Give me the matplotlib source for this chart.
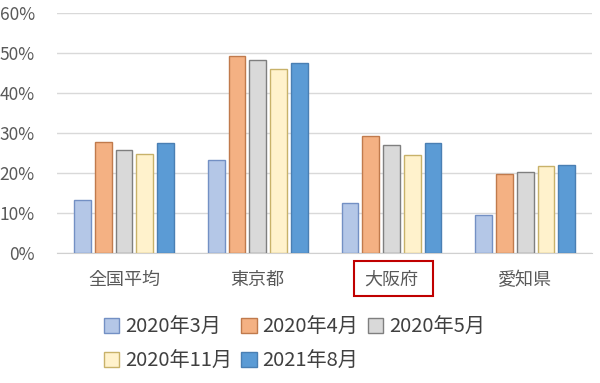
import numpy as np
import matplotlib.pyplot as plt
from matplotlib.patches import Rectangle
from matplotlib.ticker import PercentFormatter

plt.rcParams['font.family'] = ['Noto Sans CJK JP', 'DejaVu Sans']

regions = ['全国平均', '東京都', '大阪府', '愛知県']
periods = ['2020年3月', '2020年4月', '2020年5月', '2020年11月', '2021年8月']
mar_2020 = [13.1, 23.1, 12.5, 9.4]
apr_2020 = [27.8, 49.2, 29.2, 19.7]
may_2020 = [25.6, 48.2, 26.9, 20.1]
nov_2020 = [24.7, 45.8, 24.4, 21.7]
aug_2021 = [27.4, 47.3, 27.5, 21.9]
series = [mar_2020, apr_2020, may_2020, nov_2020, aug_2021]

faces = ['#b4c7e7', '#f4b183', '#d9d9d9', '#fff2cc', '#5b9bd5']
edges = ['#7390c4', '#c07a4c', '#7f7f7f', '#c8b26a', '#4a7fb3']

fig = plt.figure(figsize=(6, 3.83), dpi=100)
ax = fig.add_axes([0.095, 0.34, 0.892, 0.627])

x = np.arange(len(regions))
step = 0.155
width = 0.125
handles = []
for i, vals in enumerate(series):
    b = ax.bar(x + (i - 2) * step, vals, width, color=faces[i], edgecolor=edges[i],
               linewidth=1.0, label=periods[i], zorder=3)
    handles.append(b)

ax.set_xlim(-0.5, 3.5)
ax.set_ylim(0, 60)
ax.set_yticks(range(0, 61, 10))
ax.yaxis.set_major_formatter(PercentFormatter(decimals=0))
ax.grid(axis='y', color='#d9d9d9', linewidth=1.0, zorder=0)
for s in ['left', 'right', 'top']:
    ax.spines[s].set_visible(False)
ax.spines['bottom'].set_color('#d0d0d0')
ax.tick_params(axis='both', length=0, colors='#595959')
ax.tick_params(axis='y', pad=16, labelsize=12.5)
ax.set_xticks(x)
ax.set_xticklabels(regions, fontsize=13, color='#595959')
ax.tick_params(axis='x', pad=13)

# red box around 大阪府
fig.add_artist(Rectangle((354 / 600, 1 - 296 / 383), 79 / 600, 35 / 383,
                         transform=fig.transFigure, fill=False,
                         edgecolor='#c00000', linewidth=1.5))

order = [0, 3, 1, 4, 2]
leg = fig.legend([handles[i] for i in order], [periods[i] for i in order],
                 ncol=3, loc='upper left', bbox_to_anchor=(0.157, 0.2),
                 frameon=False, fontsize=14.5, handlelength=0.75, handleheight=0.75,
                 handletextpad=0.3, columnspacing=0.45, labelspacing=0.65,
                 borderpad=0.0)
for t in leg.get_texts():
    t.set_color('#404040')

fig.savefig('out.png', dpi=100)
